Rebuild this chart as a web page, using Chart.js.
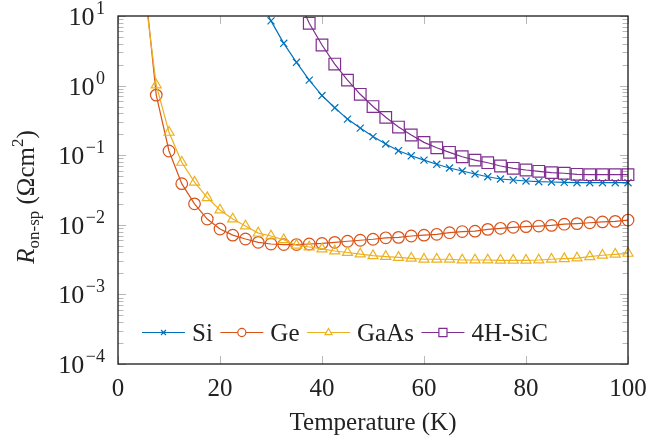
<!DOCTYPE html>
<html>
<head>
<meta charset="utf-8">
<script src="https://cdn.jsdelivr.net/npm/chart.js@4.4.0/dist/chart.umd.min.js"></script>
<style>
  body { margin: 0; background: #fff; }
  canvas { display: block; }
</style>
</head>
<body>
<canvas id="chart" width="666" height="441"></canvas>
<script>
// temperatures (K), one marker every 2.5 K
const temps = [5, 7.5, 10, 12.5, 15, 17.5, 20, 22.5, 25, 27.5,
               30, 32.5, 35, 37.5, 40, 42.5, 45, 47.5, 50, 52.5,
               55, 57.5, 60, 62.5, 65, 67.5, 70, 72.5, 75, 77.5,
               80, 82.5, 85, 87.5, 90, 92.5, 95, 97.5, 100];

// R_on-sp (Ohm cm^2); null = not plotted
const siValues = [null, null, null, null, null, null, null, null, null, 20,
                  8.5, 4.05, 2.16, 1.2, 0.72, 0.48, 0.33, 0.245, 0.185, 0.145,
                  0.116, 0.098, 0.085, 0.074, 0.0655, 0.0593, 0.0537, 0.049, 0.0455, 0.044,
                  0.0426, 0.0416, 0.0412, 0.0408, 0.0403, 0.0403, 0.0403, 0.0403, 0.0403];
const geValues = [44, 0.73, 0.115, 0.039, 0.020, 0.0121, 0.0087, 0.0071, 0.00625, 0.0056,
                  0.0053, 0.0052, 0.0052, 0.0053, 0.0054, 0.0056, 0.0058, 0.0060, 0.0062, 0.0065,
                  0.0066, 0.0069, 0.0071, 0.0073, 0.0077, 0.0080, 0.0081, 0.0086, 0.0089, 0.0092,
                  0.0094, 0.0096, 0.0098, 0.0102, 0.0104, 0.0107, 0.0110, 0.0112, 0.0117];
const gaasValues = [30, 1.02, 0.213, 0.079, 0.041, 0.0245, 0.0163, 0.0121, 0.0096, 0.0076,
                    0.0069, 0.0061, 0.0051, 0.0048, 0.0045, 0.0042, 0.0040, 0.0038, 0.0036, 0.0035,
                    0.0034, 0.0033, 0.0032, 0.0032, 0.0032, 0.00312, 0.00312, 0.00312, 0.00309, 0.00309,
                    0.00309, 0.00312, 0.0032, 0.00326, 0.00333, 0.00348, 0.00365, 0.00377, 0.00389];
const sicValues = [null, null, null, null, null, null, null, null, null, null,
                   null, null, 20, 7.85, 3.83, 2.04, 1.2, 0.75, 0.50, 0.35,
                   0.254, 0.195, 0.153, 0.128, 0.110, 0.095, 0.085, 0.078, 0.070, 0.0648,
                   0.0613, 0.0587, 0.0561, 0.055, 0.0532, 0.0525, 0.0525, 0.0525, 0.0525];

const seriesNames = ['Si', 'Ge', 'GaAs', '4H-SiC'];
const xTicks = [0, 20, 40, 60, 80, 100];
const yExponents = [-4, -3, -2, -1, 0, 1];

const FONT = '"Liberation Serif", "Times New Roman", serif';
const TEXT = '#222';

var colors = ['#0072BD', '#D95319', '#EDB120', '#7E2F8E'];
var markers = [
  {style: 'crossRot', radius: 5},
  {style: 'circle', radius: 5.8},
  {style: 'triangle', radius: 5.8},
  {style: 'rect', radius: 8.2}
];

function toPoints(values) {
  var pts = [];
  for (var i = 0; i < temps.length; i++) {
    if (values[i] !== null) pts.push({x: temps[i], y: values[i]});
  }
  return pts;
}

function makeDataset(idx, values) {
  return {
    label: seriesNames[idx],
    data: toPoints(values),
    borderColor: colors[idx],
    backgroundColor: 'rgba(0,0,0,0)',
    borderWidth: 1.2,
    pointStyle: markers[idx].style,
    pointRadius: markers[idx].radius,
    pointBorderWidth: 1.2,
    pointBorderColor: colors[idx],
    pointBackgroundColor: 'rgba(0,0,0,0)',
    tension: 0,
    order: 3 - idx,
    clip: {left: 0, top: 0, right: 10, bottom: 0}
  };
}

// gray inward ticks on all four sides, black frame, y labels as 10^n
const axesDecor = {
  id: 'axesDecor',
  beforeDatasetsDraw(chart) {
    var ctx = chart.ctx, a = chart.chartArea, x = chart.scales.x, y = chart.scales.y;
    ctx.save();
    ctx.strokeStyle = '#b8b8b8';
    ctx.lineWidth = 1;
    ctx.beginPath();
    xTicks.forEach(function(v) {
      var px = Math.round(x.getPixelForValue(v)) + 0.5;
      ctx.moveTo(px, a.bottom); ctx.lineTo(px, a.bottom - 8);
      ctx.moveTo(px, a.top); ctx.lineTo(px, a.top + 8);
    });
    yExponents.forEach(function(e) {
      for (var m = 1; m < 10; m++) {
        var v = m * Math.pow(10, e);
        if (v > y.max * 1.0001) continue;
        var py = Math.round(y.getPixelForValue(v)) + 0.5;
        var len = m === 1 ? 8 : 5.5;
        ctx.moveTo(a.left, py); ctx.lineTo(a.left + len, py);
        ctx.moveTo(a.right, py); ctx.lineTo(a.right - len, py);
      }
    });
    ctx.stroke();
    ctx.restore();
  },
  afterDatasetsDraw(chart) {
    var ctx = chart.ctx, a = chart.chartArea, y = chart.scales.y;
    ctx.save();
    ctx.strokeStyle = '#1a1a1a';
    ctx.lineWidth = 1.3;
    ctx.strokeRect(a.left, a.top, a.right - a.left, a.bottom - a.top);

    ctx.fillStyle = TEXT;
    ctx.textBaseline = 'alphabetic';
    yExponents.forEach(function(e) {
      var py = y.getPixelForValue(Math.pow(10, e));
      var expStr = e < 0 ? '\u2212' + Math.abs(e) : String(e);
      ctx.font = '18px ' + FONT;
      var wExp = ctx.measureText(expStr).width;
      var right = a.left - 13;
      ctx.textAlign = 'left';
      ctx.fillText(expStr, right - wExp, py - 2);
      ctx.font = '26px ' + FONT;
      ctx.textAlign = 'right';
      ctx.fillText('10', right - wExp - 1.5, py + 9);
    });
    ctx.restore();
  },
  afterDraw(chart) {
    var ctx = chart.ctx;
    // y title: R_{on-sp} (Ωcm^2)
    var parts = [
      {t: 'R', f: 'italic 25px ' + FONT, dy: 0},
      {t: 'on-sp', f: '17px ' + FONT, dy: 5},
      {t: ' (\u03A9cm', f: '25px ' + FONT, dy: 0},
      {t: '2', f: '17px ' + FONT, dy: -11},
      {t: ')', f: '25px ' + FONT, dy: 0}
    ];
    ctx.save();
    ctx.fillStyle = TEXT;
    ctx.textBaseline = 'alphabetic';
    ctx.textAlign = 'left';
    var total = 0;
    parts.forEach(function(p) { ctx.font = p.f; p.w = ctx.measureText(p.t).width; total += p.w; });
    ctx.translate(34, 197);
    ctx.rotate(-Math.PI / 2);
    var cx = -total / 2;
    parts.forEach(function(p) { ctx.font = p.f; ctx.fillText(p.t, cx, p.dy); cx += p.w; });
    ctx.restore();

    // legend inside the axes, lower left
    ctx.save();
    ctx.font = '25px ' + FONT;
    ctx.textBaseline = 'alphabetic';
    ctx.textAlign = 'left';
    var lx = 142, ly = 332.5;
    chart.data.datasets.forEach(function(ds, i) {
      ctx.strokeStyle = colors[i];
      ctx.lineWidth = 1.2;
      ctx.beginPath();
      ctx.moveTo(lx, ly); ctx.lineTo(lx + 43, ly);
      ctx.stroke();
      ctx.fillStyle = '#ffffff';
      Chart.helpers.drawPoint(ctx, {
        pointStyle: markers[i].style,
        radius: markers[i].radius * 0.7,
        borderWidth: 1.1
      }, lx + 21.5, ly);
      ctx.fillStyle = TEXT;
      ctx.fillText(ds.label, lx + 50, 340.5);
      lx += 50 + ctx.measureText(ds.label).width + 7.5;
    });
    ctx.restore();
  }
};

var chart = new Chart(document.getElementById('chart'), {
  type: 'line',
  data: {
    datasets: [
      makeDataset(0, siValues),
      makeDataset(1, geValues),
      makeDataset(2, gaasValues),
      makeDataset(3, sicValues)
    ]
  },
  options: {
    responsive: false,
    animation: false,
    devicePixelRatio: 1,
    layout: {padding: {left: 0, top: 16, right: 38, bottom: 0}},
    plugins: {legend: {display: false}, tooltip: {enabled: false}},
    scales: {
      x: {
        type: 'linear',
        min: 0, max: 100,
        grid: {display: false, drawTicks: false, tickLength: 0},
        border: {display: false},
        afterBuildTicks: function(scale) { scale.ticks = xTicks.map(function(v) { return {value: v}; }); },
        ticks: {color: TEXT, font: {family: FONT, size: 25}, padding: 10, maxRotation: 0},
        title: {display: true, text: 'Temperature (K)', color: TEXT, font: {family: FONT, size: 25}, padding: {top: 0, bottom: 3}},
        afterFit: function(scale) { scale.height = 77; }
      },
      y: {
        type: 'logarithmic',
        min: 1e-4, max: 10,
        grid: {display: false, drawTicks: false},
        border: {display: false},
        ticks: {display: false},
        afterFit: function(scale) { scale.width = 118; }
      }
    }
  },
  plugins: [axesDecor]
});
</script>
</body>
</html>
